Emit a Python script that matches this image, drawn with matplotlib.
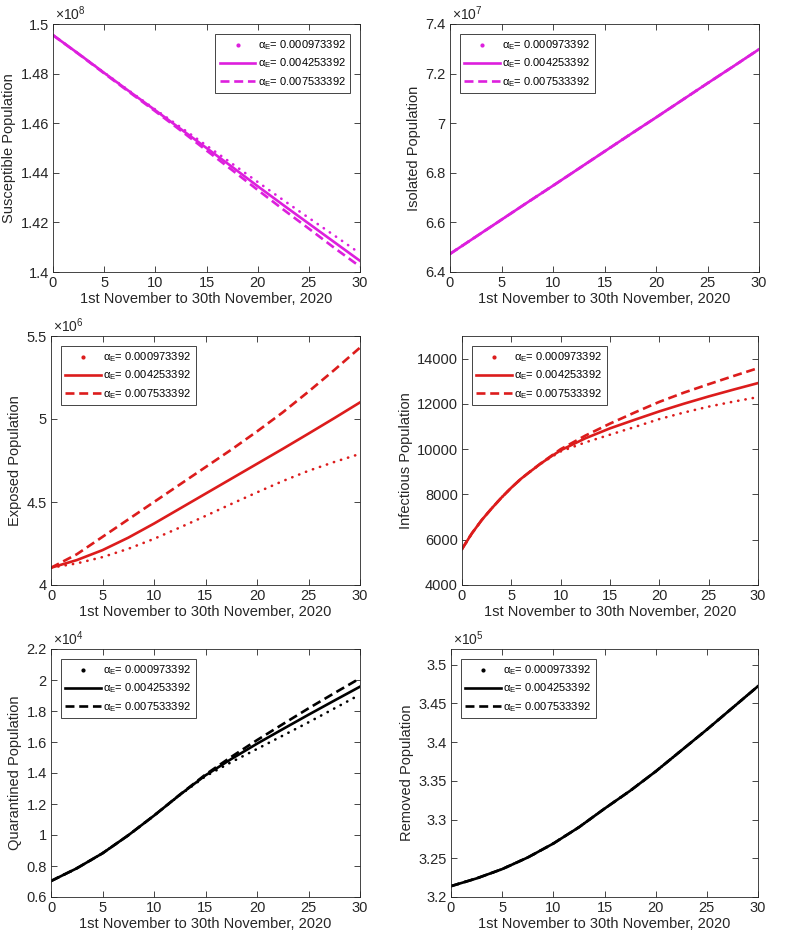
import matplotlib
matplotlib.use("Agg")
import matplotlib.pyplot as plt
from matplotlib.lines import Line2D
from matplotlib.ticker import FuncFormatter

plt.rcParams['font.family'] = ['Liberation Sans', 'DejaVu Sans']
plt.rcParams['mathtext.fontset'] = 'custom'
plt.rcParams['mathtext.rm'] = 'Liberation Sans'
plt.rcParams['mathtext.it'] = 'Liberation Sans'
plt.rcParams['mathtext.bf'] = 'Liberation Sans:bold'

# ---------------- data ----------------
t = [0, 2.5, 5, 7.5, 10, 12.5, 15, 17.5, 20, 22.5, 25, 27.5, 30]
t_inf = [0, 1, 2, 3, 4, 5, 6, 7, 8, 9, 10, 12.5, 15, 17.5, 20, 22.5, 25, 27.5, 30]

labels = ['0.000973392', '0.004253392', '0.007533392']

susceptible_dot = [1.4955e8, 1.4880e8, 1.4804e8, 1.4729e8, 1.4655e8, 1.4583e8, 1.4510e8, 1.4437e8, 1.4363e8, 1.4290e8, 1.4218e8, 1.4147e8, 1.4075e8]
susceptible_sol = [1.4955e8, 1.4880e8, 1.4803e8, 1.4727e8, 1.4652e8, 1.4576e8, 1.4500e8, 1.4424e8, 1.4346e8, 1.4270e8, 1.4195e8, 1.4120e8, 1.4045e8]
susceptible_das = [1.4955e8, 1.4879e8, 1.4801e8, 1.4724e8, 1.4648e8, 1.4570e8, 1.4490e8, 1.4411e8, 1.4331e8, 1.4252e8, 1.4175e8, 1.4097e8, 1.4022e8]

isolated_dot = [6.473e7, 6.542e7, 6.611e7, 6.680e7, 6.748e7, 6.817e7, 6.886e7, 6.955e7, 7.023e7, 7.092e7, 7.161e7, 7.229e7, 7.298e7]
isolated_sol = [6.473e7, 6.542e7, 6.611e7, 6.680e7, 6.748e7, 6.817e7, 6.886e7, 6.955e7, 7.023e7, 7.092e7, 7.161e7, 7.229e7, 7.298e7]
isolated_das = [6.473e7, 6.542e7, 6.611e7, 6.680e7, 6.748e7, 6.817e7, 6.886e7, 6.955e7, 7.023e7, 7.092e7, 7.161e7, 7.229e7, 7.298e7]

exposed_dot = [4.104e6, 4.130e6, 4.168e6, 4.218e6, 4.278e6, 4.346e6, 4.416e6, 4.488e6, 4.558e6, 4.626e6, 4.688e6, 4.741e6, 4.790e6]
exposed_sol = [4.104e6, 4.150e6, 4.210e6, 4.285e6, 4.370e6, 4.460e6, 4.550e6, 4.640e6, 4.730e6, 4.820e6, 4.912e6, 5.005e6, 5.100e6]
exposed_das = [4.104e6, 4.185e6, 4.290e6, 4.395e6, 4.500e6, 4.605e6, 4.710e6, 4.815e6, 4.925e6, 5.040e6, 5.165e6, 5.295e6, 5.430e6]

infectious_dot = [5590, 6280, 6870, 7380, 7860, 8300, 8700, 9040, 9360, 9640, 9900, 10300, 10640, 10980, 11330, 11620, 11880, 12100, 12300]
infectious_sol = [5590, 6280, 6870, 7380, 7860, 8300, 8700, 9040, 9370, 9670, 9950, 10480, 10920, 11300, 11670, 12010, 12330, 12630, 12920]
infectious_das = [5590, 6280, 6870, 7380, 7860, 8300, 8700, 9045, 9380, 9690, 10000, 10600, 11130, 11620, 12090, 12500, 12870, 13230, 13580]

quarantined_dot = [7030, 7850, 8820, 9980, 11250, 12570, 13790, 14700, 15550, 16410, 17270, 18160, 19060]
quarantined_sol = [7030, 7850, 8820, 9980, 11250, 12590, 13850, 14900, 15890, 16830, 17760, 18670, 19570]
quarantined_das = [7030, 7850, 8820, 9980, 11250, 12600, 13900, 15040, 16120, 17150, 18170, 19150, 20110]

removed_dot = [3.214e5, 3.224e5, 3.236e5, 3.251e5, 3.269e5, 3.290e5, 3.314e5, 3.337e5, 3.362e5, 3.389e5, 3.416e5, 3.444e5, 3.472e5]
removed_sol = [3.214e5, 3.224e5, 3.236e5, 3.251e5, 3.269e5, 3.290e5, 3.314e5, 3.337e5, 3.362e5, 3.389e5, 3.416e5, 3.444e5, 3.472e5]
removed_das = [3.214e5, 3.224e5, 3.236e5, 3.251e5, 3.269e5, 3.290e5, 3.314e5, 3.337e5, 3.362e5, 3.389e5, 3.416e5, 3.444e5, 3.472e5]

MAGENTA = '#dd1fdd'
RED = '#dc1c1c'
BLACK = '#000000'
AXC = '#262626'
XLABEL = '1st November to 30th November, 2020'

fig = plt.figure(figsize=(7.97, 9.36), dpi=100)

W, H = 797, 936
def add_ax(l, r, top, bot):
    return fig.add_axes([l / W, 1 - bot / H, (r - l) / W, (bot - top) / H])

panels = [
    dict(box=(53, 360, 24, 272), x=t, ys=(susceptible_dot, susceptible_sol, susceptible_das), c=MAGENTA,
         ylabel='Susceptible Population', ylim=(1.4e8, 1.5e8), yticks=[1.4e8, 1.42e8, 1.44e8, 1.46e8, 1.48e8, 1.5e8],
         exp=8, loc='upper right'),
    dict(box=(450, 759, 24, 272), x=t, ys=(isolated_dot, isolated_sol, isolated_das), c=MAGENTA,
         ylabel='Isolated Population', ylim=(6.4e7, 7.4e7), yticks=[6.4e7, 6.6e7, 6.8e7, 7.0e7, 7.2e7, 7.4e7],
         exp=7, loc='upper left'),
    dict(box=(51, 360, 336, 585), x=t, ys=(exposed_dot, exposed_sol, exposed_das), c=RED,
         ylabel='Exposed Population', ylim=(4.0e6, 5.5e6), yticks=[4.0e6, 4.5e6, 5.0e6, 5.5e6],
         exp=6, loc='upper left'),
    dict(box=(462, 758, 336, 585), x=t_inf, ys=(infectious_dot, infectious_sol, infectious_das), c=RED,
         ylabel='Infectious Population', ylim=(4000, 15000), yticks=[4000, 6000, 8000, 10000, 12000, 14000],
         exp=None, loc='upper left'),
    dict(box=(51, 360, 649, 897), x=t, ys=(quarantined_dot, quarantined_sol, quarantined_das), c=BLACK,
         ylabel='Quarantined Population', ylim=(6000, 22000), yticks=[6000, 8000, 10000, 12000, 14000, 16000, 18000, 20000, 22000],
         exp=4, loc='upper left'),
    dict(box=(451, 758, 649, 897), x=t, ys=(removed_dot, removed_sol, removed_das), c=BLACK,
         ylabel='Removed Population', ylim=(3.2e5, 3.52e5), yticks=[3.2e5, 3.25e5, 3.3e5, 3.35e5, 3.4e5, 3.45e5, 3.5e5],
         exp=5, loc='upper left'),
]

DASH = (0, (3.4, 1.8))
DOT = (0, (0.1, 2.7))

for p in panels:
    ax = add_ax(*p['box'])
    c = p['c']
    yd, ys_, yda = p['ys']
    ax.plot(p['x'], yd, color=c, lw=1.9, linestyle=DOT, dash_capstyle='round')
    ax.plot(p['x'], ys_, color=c, lw=1.9, linestyle='-', solid_joinstyle='round')
    ax.plot(p['x'], yda, color=c, lw=1.9, linestyle=DASH)
    ax.set_xlim(0, 30)
    ax.set_xticks([0, 5, 10, 15, 20, 25, 30])
    ax.set_ylim(*p['ylim'])
    ax.set_yticks(p['yticks'])
    if p['exp'] is not None:
        e = p['exp']
        ax.yaxis.set_major_formatter(FuncFormatter(lambda v, pos, e=e: ('%g' % round(v / 10 ** e, 6))))
        ax.text(0.005, 1.005, r'$\times10^{%d}$' % e, transform=ax.transAxes, ha='left', va='bottom',
                fontsize=10, color=AXC)
    else:
        ax.yaxis.set_major_formatter(FuncFormatter(lambda v, pos: '%d' % v))
    ax.tick_params(direction='in', top=True, right=True, length=4, width=0.6, colors=AXC,
                   labelsize=10.5, pad=3)
    for s in ax.spines.values():
        s.set_color(AXC)
        s.set_linewidth(0.6)
    ax.set_xlabel(XLABEL, fontsize=10.5, color=AXC, labelpad=1)
    ax.set_ylabel(p['ylabel'], fontsize=10.5, color=AXC, labelpad=3)
    handles = [
        Line2D([], [], color=c, linestyle='none', marker='.', markersize=4),
        Line2D([], [], color=c, lw=1.9, linestyle='-'),
        Line2D([], [], color=c, lw=1.9, linestyle=DASH),
    ]
    leg = ax.legend(handles, [r'$\alpha_{E}$= ' + s for s in labels], loc=p['loc'], fontsize=8,
                    fancybox=False, framealpha=1, edgecolor=AXC, borderpad=0.4, labelspacing=0.4,
                    handlelength=3.2, handletextpad=0.2, borderaxespad=0.9)
    leg.get_frame().set_linewidth(0.6)

fig.savefig('out.png', dpi=100)
